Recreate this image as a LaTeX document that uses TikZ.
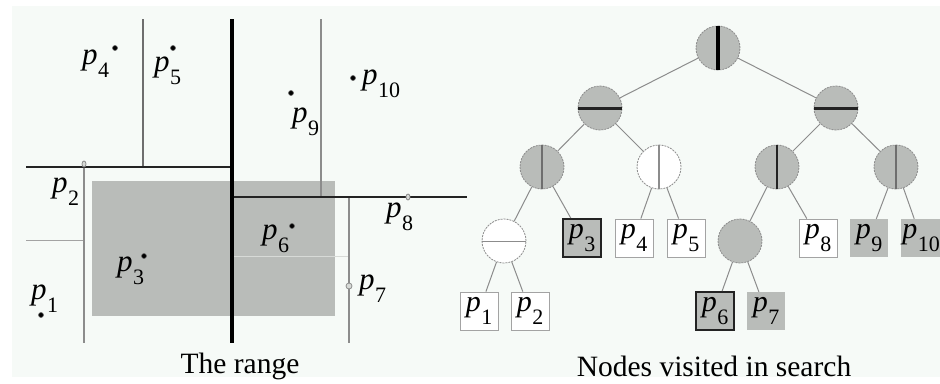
\documentclass[tikz,border=0pt]{standalone}
\usepackage{fontspec}
\usetikzlibrary{shapes.geometric}
\setmainfont{Liberation Serif}
\definecolor{bg}{RGB}{246,250,247}
\definecolor{shadegray}{RGB}{185,188,185}
\definecolor{lgray}{RGB}{140,140,140}
\definecolor{mgray}{RGB}{110,110,110}
\definecolor{dk}{RGB}{35,35,35}
\definecolor{pale}{RGB}{215,218,215}
\newcommand\plab[1]{\textit{p}\kern0.5pt\raisebox{-0.45em}{\fontsize{22}{22}\selectfont #1}}
\begin{document}
\begin{tikzpicture}[x=1pt,y=-1pt,
  plabel/.style={inner sep=0pt, anchor=base west, font=\fontsize{31}{34}\selectfont},
  ptmark/.style={circle, fill=black, draw=black!60, line width=0.6pt, inner sep=0pt, minimum size=5pt},
  gmark/.style={ellipse, draw=lgray, fill=pale, inner sep=0pt, minimum width=4pt, minimum height=6pt, line width=0.8pt},
  splitnode/.style={circle, draw=lgray, dash pattern=on 2pt off 1pt, line width=0.8pt, minimum size=44pt, inner sep=0pt},
  splitfull/.style={splitnode, fill=shadegray},
  splitwhite/.style={splitnode, fill=white},
  leafbox/.style={rectangle, minimum width=38pt, minimum height=38pt, inner sep=0pt, font=\fontsize{30}{33}\selectfont},
  wleaf/.style={leafbox, draw=lgray!80, fill=white, line width=0.8pt},
  hleaf/.style={leafbox, draw=dk, fill=shadegray, line width=2pt},
  gleaf/.style={leafbox, fill=shadegray},
  conn/.style={draw=lgray, line width=1pt},
  capt/.style={font=\fontsize{29.5}{33}\selectfont, inner sep=0pt}
]
\useasboundingbox (0,0) rectangle (940,383);
\fill[white] (0,0) rectangle (940,383);
\fill[bg] (12,6) rectangle (940,377);

% ---------- left panel: the range ----------
\fill[shadegray] (92,181) rectangle (335,316);
\draw[pale, line width=1pt] (232,256) -- (349,256);
\draw[lgray!80, line width=1pt] (26,240) -- (84,240);
\draw[mgray, line width=1.2pt] (143,19) -- (143,167);
\draw[lgray, line width=1.5pt] (321,19) -- (321,197);
\draw[lgray, line width=2pt] (84,164) -- (84,343);
\draw[lgray, line width=2pt] (349,197) -- (349,343);
\draw[dk, line width=2.5pt] (26,167) -- (232,167);
\draw[dk, line width=2.5pt] (232,197) -- (467,197);
\draw[black, line width=4pt] (232,19) -- (232,343);

\node[ptmark] (m4) at (115,48) {};
\node[ptmark] (m5) at (173,48) {};
\node[ptmark] (m9) at (291,93) {};
\node[ptmark] (m10) at (353,78) {};
\node[ptmark] (m6) at (292,226) {};
\node[ptmark] (m3) at (144,256) {};
\node[ptmark] (m1) at (41,315) {};
\node[gmark] (m2) at (84,164) {};
\node[gmark] (m8) at (408,197) {};
\node[gmark, minimum width=6pt] (m7) at (349,286) {};

\node[plabel] (l4) at (82,64) {\plab{4}};
\node[plabel] (l5) at (154,71) {\plab{5}};
\node[plabel] (l9) at (292,122) {\plab{9}};
\node[plabel] (l10) at (362,84) {\plab{10}};
\node[plabel] (l2) at (52,192) {\plab{2}};
\node[plabel] (l1) at (31,299) {\plab{1}};
\node[plabel] (l3) at (117,271) {\plab{3}};
\node[plabel] (l6) at (262,239) {\plab{6}};
\node[plabel] (l7) at (359,289) {\plab{7}};
\node[plabel] (l8) at (386,217) {\plab{8}};

\node[capt] (c1) at (240,366) {The range};

% ---------- right panel: the tree ----------
\node[splitfull] (r) at (718,48) {};
\node[splitfull] (a) at (600,108) {};
\node[splitfull] (b) at (836,108) {};
\node[splitfull] (aa) at (542,167) {};
\node[splitwhite] (ab) at (659,167) {};
\node[splitfull] (ba) at (777,167) {};
\node[splitfull] (bb) at (896,167) {};
\node[splitwhite] (aaa) at (504,241) {};
\node[hleaf] (t3) at (582,238) {\plab{3}};
\node[wleaf] (t4) at (634,238) {\plab{4}};
\node[wleaf] (t5) at (686,238) {\plab{5}};
\node[splitfull] (baa) at (740,241) {};
\node[wleaf] (t8) at (818,238) {\plab{8}};
\node[gleaf] (t9) at (869,238) {\plab{9}};
\node[gleaf, minimum width=40pt] (t10) at (921,238) {\plab{10}};
\node[wleaf] (t1) at (479,311) {\plab{1}};
\node[wleaf] (t2) at (530,311) {\plab{2}};
\node[hleaf] (t6) at (715,311) {\plab{6}};
\node[gleaf] (t7) at (766,311) {\plab{7}};

\draw[black, line width=3.5pt] (r.north) -- (r.south);
\draw[dk, line width=3pt] (a.west) -- (a.east);
\draw[dk, line width=3pt] (b.west) -- (b.east);
\draw[mgray, line width=1.5pt] (aa.north) -- (aa.south);
\draw[lgray, line width=1.5pt] (ab.north) -- (ab.south);
\draw[dk, line width=1.5pt] (ba.north) -- (ba.south);
\draw[mgray, line width=1.5pt] (bb.north) -- (bb.south);
\draw[lgray, line width=1pt] (aaa.west) -- (aaa.east);

\draw[conn] (r) -- (a);
\draw[conn] (r) -- (b);
\draw[conn] (a) -- (aa);
\draw[conn] (a) -- (ab);
\draw[conn] (b) -- (ba);
\draw[conn] (b) -- (bb);
\draw[conn] (aa) -- (aaa);
\draw[conn] (aa) -- (t3);
\draw[conn] (ab) -- (t4);
\draw[conn] (ab) -- (t5);
\draw[conn] (ba) -- (baa);
\draw[conn] (ba) -- (t8);
\draw[conn] (bb) -- (t9);
\draw[conn] (bb) -- (t10);
\draw[conn] (aaa) -- (t1);
\draw[conn] (aaa) -- (t2);
\draw[conn] (baa) -- (t6);
\draw[conn] (baa) -- (t7);

\node[capt] (c2) at (714,366) {Nodes visited in search};
\end{tikzpicture}
\end{document}
